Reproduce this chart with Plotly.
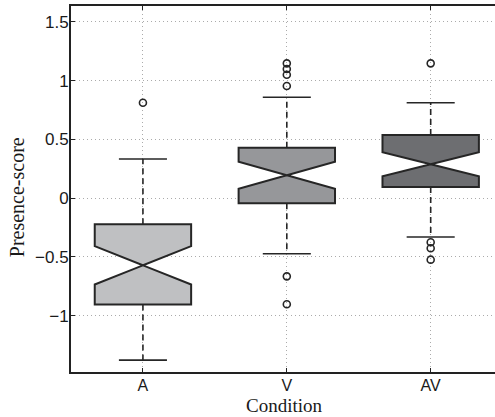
import plotly.graph_objects as go

# ---- data ----
categories = ["A", "V", "AV"]
positions = [1, 2, 3]
q1 = [-0.905, -0.043, 0.095]
median = [-0.571, 0.195, 0.289]
q3 = [-0.221, 0.430, 0.538]
lower_whisker = [-1.378, -0.472, -0.330]
upper_whisker = [0.334, 0.859, 0.813]
notch_span = [0.163, 0.115, 0.102]
outliers = [
    [0.813],
    [1.148, 1.100, 1.051, 0.955, -0.665, -0.903],
    [1.148, -0.375, -0.426, -0.523],
]
y_ticks = [-1, -0.5, 0, 0.5, 1, 1.5]

# ---- styles ----
fills = ["#bfc0c2", "#96979a", "#6d6e71"]
edge = "#262626"
box_width = 0.67
cap_half = 0.167

fig = go.Figure()

for i, cat in enumerate(categories):
    fig.add_trace(go.Box(
        x=[positions[i]],
        q1=[q1[i]], median=[median[i]], q3=[q3[i]],
        lowerfence=[q1[i]], upperfence=[q3[i]],
        notchspan=[notch_span[i]], notched=True, notchwidth=0.5,
        width=box_width, whiskerwidth=0,
        fillcolor=fills[i],
        line=dict(color=edge, width=2),
        boxpoints=False, hoverinfo="skip", showlegend=False, name=cat,
    ))

for i, cat in enumerate(categories):
    p = positions[i]
    # dashed whiskers
    fig.add_trace(go.Scatter(
        x=[p, p, None, p, p],
        y=[q3[i], upper_whisker[i], None, q1[i], lower_whisker[i]],
        mode="lines", line=dict(color=edge, width=1.6, dash="6px,4px"),
        showlegend=False, hoverinfo="skip",
    ))
    # whisker caps
    fig.add_trace(go.Scatter(
        x=[p - cap_half, p + cap_half, None, p - cap_half, p + cap_half],
        y=[upper_whisker[i], upper_whisker[i], None, lower_whisker[i], lower_whisker[i]],
        mode="lines", line=dict(color=edge, width=1.6),
        showlegend=False, hoverinfo="skip",
    ))
    # outliers
    fig.add_trace(go.Scatter(
        x=[p] * len(outliers[i]), y=outliers[i],
        mode="markers",
        marker=dict(symbol="circle-open", size=7, color=edge, line=dict(width=1.6, color=edge)),
        showlegend=False, hoverinfo="skip",
    ))

tick_font_y = dict(family="Liberation Sans, Arial, sans-serif", size=17, color="#1a1a1a")
tick_font_x = dict(family="Liberation Sans, Arial, sans-serif", size=16, color="#1a1a1a")
title_font = dict(family="Liberation Serif, Times New Roman, serif", size=19, color="#1a1a1a")
grid_color = "#ababab"

fig.update_layout(
    width=495, height=417,
    margin=dict(l=71, r=0, t=6, b=45, pad=0),
    paper_bgcolor="white", plot_bgcolor="white",
    showlegend=False,
    xaxis=dict(
        range=[0.5, 3.447], tickmode="array", tickvals=positions, ticktext=categories,
        showgrid=True, gridcolor=grid_color, griddash="1px,3px", gridwidth=1,
        showline=True, linecolor="#222222", linewidth=2, mirror="ticks",
        ticks="inside", ticklen=4, tickcolor="#222222", tickwidth=1,
        tickfont=tick_font_x, zeroline=False, fixedrange=True,
        ticklabelstandoff=-2,
    ),
    yaxis=dict(
        range=[-1.479, 1.636], tickmode="array", tickvals=y_ticks,
        showgrid=True, gridcolor=grid_color, griddash="1px,3px", gridwidth=1,
        showline=True, linecolor="#222222", linewidth=2, mirror=False,
        ticks="inside", ticklen=4, tickcolor="#222222", tickwidth=1,
        tickfont=tick_font_y, zeroline=False, fixedrange=True,
        ticklabelstandoff=-3,
    ),
    annotations=[
        dict(text="Condition", xref="paper", yref="paper", x=0.503, y=-0.092,
             xanchor="center", yanchor="middle", showarrow=False, font=title_font,
             borderpad=0),
        dict(text="Presence-score", xref="paper", yref="paper", x=-0.127, y=0.478,
             xanchor="center", yanchor="middle", textangle=-90, showarrow=False,
             font=dict(family="Liberation Serif, Times New Roman, serif", size=20, color="#1a1a1a"),
             borderpad=0),
    ],
)

fig.write_html("out.html")
